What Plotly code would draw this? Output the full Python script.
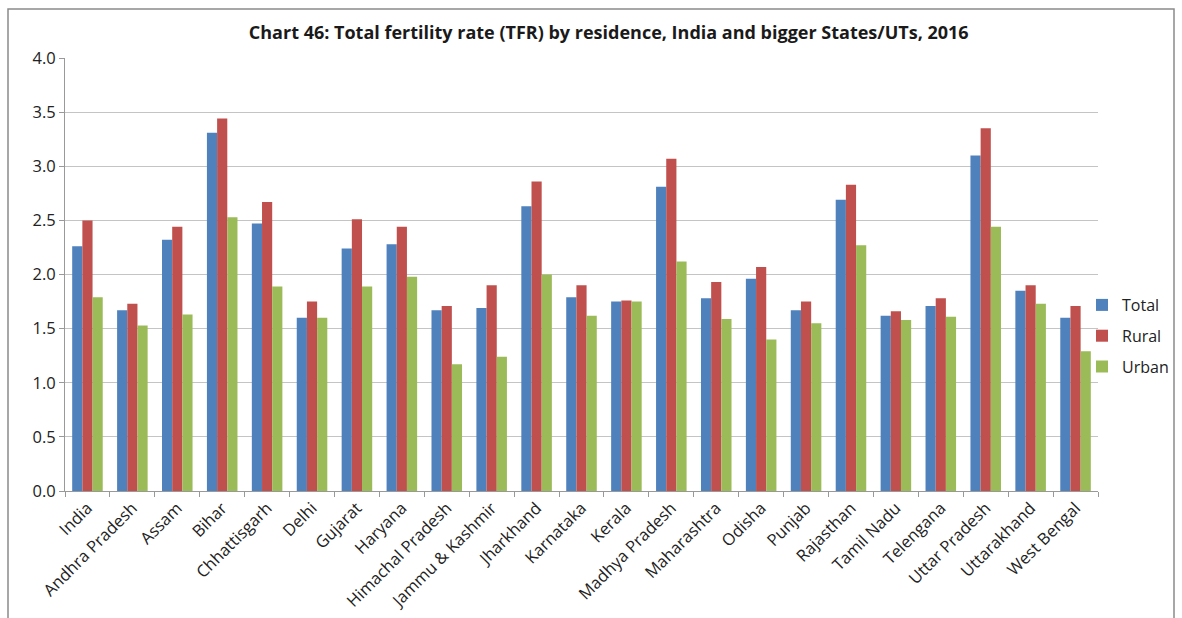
import plotly.graph_objects as go

categories = ["India", "Andhra Pradesh", "Assam", "Bihar", "Chhattisgarh", "Delhi",
              "Gujarat", "Haryana", "Himachal Pradesh", "Jammu & Kashmir", "Jharkhand",
              "Karnataka", "Kerala", "Madhya Pradesh", "Maharashtra", "Odisha", "Punjab",
              "Rajasthan", "Tamil Nadu", "Telengana", "Uttar Pradesh", "Uttarakhand",
              "West Bengal"]
total = [2.26, 1.67, 2.32, 3.31, 2.47, 1.60, 2.24, 2.28, 1.67, 1.69, 2.63, 1.79, 1.75,
         2.81, 1.78, 1.96, 1.67, 2.69, 1.62, 1.71, 3.10, 1.85, 1.60]
rural = [2.50, 1.73, 2.44, 3.44, 2.67, 1.75, 2.51, 2.44, 1.71, 1.90, 2.86, 1.90, 1.76,
         3.07, 1.93, 2.07, 1.75, 2.83, 1.66, 1.78, 3.35, 1.90, 1.71]
urban = [1.79, 1.53, 1.63, 2.53, 1.89, 1.60, 1.89, 1.98, 1.17, 1.24, 2.00, 1.62, 1.75,
         2.12, 1.59, 1.40, 1.55, 2.27, 1.58, 1.61, 2.44, 1.73, 1.29]
y_ticks = [0.0, 0.5, 1.0, 1.5, 2.0, 2.5, 3.0, 3.5, 4.0]
title = "Chart 46: Total fertility rate (TFR) by residence, India and bigger States/UTs, 2016"

series = [("Total", total, "#4F81BD"), ("Rural", rural, "#C0504D"), ("Urban", urban, "#9BBB59")]

fig = go.Figure()
for name, vals, col in series:
    fig.add_trace(go.Bar(x=categories, y=vals, name=name, marker_color=col,
                         marker_line_width=0, legendgroup=name))

L, R, T, B = 65, 84, 58, 127
W, H = 1182, 618
pw, ph = W - L - R, H - T - B

def px(x):
    return (x - L) / pw

def py(y):
    return (H - B - y) / ph

fig.update_layout(
    width=W, height=H,
    margin=dict(l=L, r=R, t=T, b=B, autoexpand=False),
    paper_bgcolor="white", plot_bgcolor="white",
    barmode="group", bargap=0.32, bargroupgap=0,
    font=dict(family="Open Sans, sans-serif", color="#333333"),
    title=dict(text="<b>" + title + "</b>", x=px(597), xanchor="center",
               y=1 - 33 / H, yanchor="middle",
               font=dict(size=18, family="Open Sans, sans-serif", color="#1a1a1a")),
    legend=dict(x=px(1082), xanchor="left", y=py(336), yanchor="middle",
                font=dict(size=16, color="#222222"), tracegroupgap=7,
                itemwidth=30, bgcolor="rgba(0,0,0,0)"),
    xaxis=dict(tickangle=-45, tickfont=dict(size=16.5, color="#222222"),
               showline=True, linecolor="#999999", linewidth=1,
               ticks="outside", tickson="boundaries", ticklen=5, tickcolor="#999999",
               showgrid=False),
    yaxis=dict(range=[0, 4.0], tickvals=y_ticks, ticktext=[f"{v:.1f}" for v in y_ticks],
               tickfont=dict(size=16.5, color="#222222"),
               showline=True, linecolor="#999999", linewidth=1,
               ticks="outside", ticklen=5, tickcolor="#999999",
               gridcolor="#c4c4c4", gridwidth=1, zeroline=False),
    shapes=[dict(type="rect", xref="paper", yref="paper",
                 x0=px(8), x1=px(1174), y0=py(640), y1=py(9),
                 line=dict(color="#8a8a8a", width=1.5), fillcolor="rgba(0,0,0,0)",
                 layer="below")],
)

fig.write_html("out.html")
